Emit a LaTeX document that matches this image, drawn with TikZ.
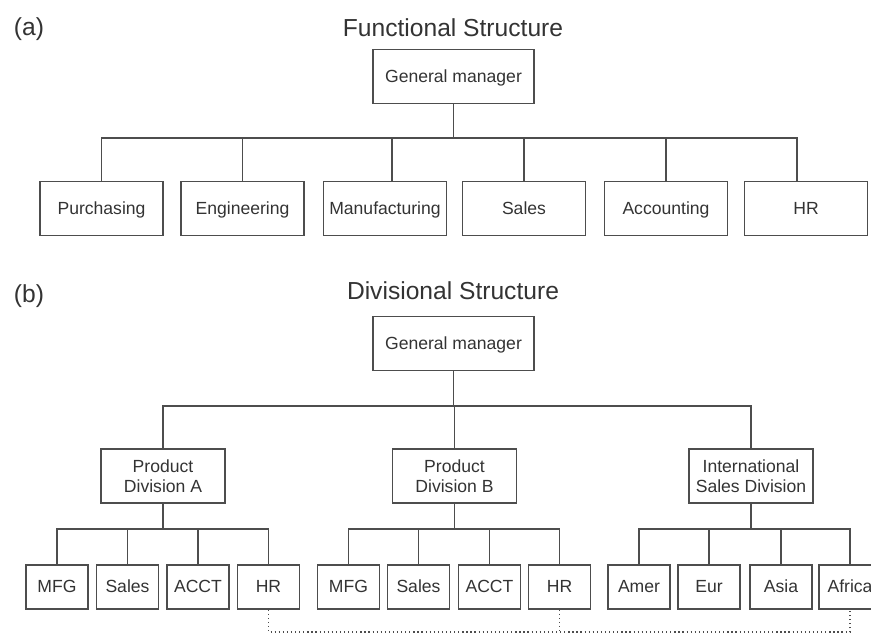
\documentclass[tikz,border=0pt]{standalone}
\usepackage{fontspec}
\setmainfont{Liberation Sans}
\definecolor{txtgray}{HTML}{333333}
\definecolor{linegray}{HTML}{4D4D4D}

\begin{document}
\begin{tikzpicture}[x=0.025cm, y=-0.025cm,
  every node/.style={font=\fontsize{12.5}{14.5}\selectfont, text=txtgray},
  conn/.style={draw=linegray, line width=0.85pt},
  link/.style={draw=linegray, line width=0.9pt, dotted},
  heading/.style={font=\fontsize{17.5}{20}\selectfont},
  frame/.style={draw=linegray, line width=0.85pt, inner sep=0pt, align=center,
    minimum width=3.075cm, minimum height=1.35cm},
  box/.style={frame, text height=10pt, text depth=2pt},
  gmbox/.style={box, minimum width=4.025cm},
  divbox/.style={frame, minimum width=3.1cm},
  subbox/.style={box, minimum width=1.55cm, minimum height=1.1cm}]
\useasboundingbox (0,0) rectangle (871,634);
\clip (0,0) rectangle (871,634);

% (a) Functional structure
\node[heading] (labA) at (29,29) {(a)};
\node[heading] (titleA) at (453,28) {Functional Structure};
\node[gmbox] (gmA) at (453.5,76.5) {General manager};
\coordinate (barA) at (0,138);

\node[box] (pur) at (101.5,208.5) {Purchasing};
\node[box] (eng) at (242.5,208.5) {Engineering};
\node[box] (man) at (385,208.5) {Manufacturing};
\node[box] (sal) at (524,208.5) {Sales};
\node[box] (acc) at (666,208.5) {Accounting};
\node[box] (hrF) at (806,208.5) {HR};

\foreach \n in {pur,eng,sal,acc}
  \draw[conn] (gmA.south) -- (gmA.south |- barA) -| (\n.north);
\draw[conn] (gmA.south |- barA) -| ([xshift=0.175cm]man.north);
\draw[conn] (gmA.south |- barA) -| ([xshift=-0.225cm]hrF.north);

% (b) Divisional structure
\node[heading] (labB) at (29,296) {(b)};
\node[heading] (titleB) at (453,291) {Divisional Structure};
\node[gmbox] (gmB) at (453.5,343.5) {General manager};
\coordinate (barB) at (0,406);

\node[divbox] (divA) at (163,476) {Product\\Division A};
\node[divbox] (divB) at (454.5,476) {Product\\Division B};
\node[divbox] (intl) at (751,476) {International\\Sales Division};

\foreach \n in {divA,divB,intl}
  \draw[conn] (gmB.south) -- (gmB.south |- barB) -| (\n.north);

% Sub units
\coordinate (barS) at (0,529);
\node[subbox] (mfgA) at (57,587) {MFG};
\node[subbox] (salA) at (127.5,587) {Sales};
\node[subbox] (accA) at (198,587) {ACCT};
\node[subbox] (hrA) at (268.5,587) {HR};
\node[subbox] (mfgB) at (348.5,587) {MFG};
\node[subbox] (salB) at (418.5,587) {Sales};
\node[subbox] (accB) at (489.5,587) {ACCT};
\node[subbox] (hrB) at (559.5,587) {HR};
\node[subbox] (amer) at (639,587) {Amer};
\node[subbox] (eur) at (709,587) {Eur};
\node[subbox] (asia) at (781,587) {Asia};
\node[subbox] (afr) at (850,587) {Africa};

\foreach \n in {mfgA,salA,accA,hrA}
  \draw[conn] (divA.south) -- (divA.south |- barS) -| (\n.north);
\foreach \n in {mfgB,salB,accB,hrB}
  \draw[conn] (divB.south) -- (divB.south |- barS) -| (\n.north);
\foreach \n in {amer,eur,asia,afr}
  \draw[conn] (intl.south) -- (intl.south |- barS) -| (\n.north);

% HR link
\coordinate (dotbase) at (0,632);
\draw[link] (hrA.south) -- (hrA.south |- dotbase) -- (afr.south |- dotbase) -- (afr.south);
\draw[link] (hrB.south) -- (hrB.south |- dotbase);
\end{tikzpicture}
\end{document}
